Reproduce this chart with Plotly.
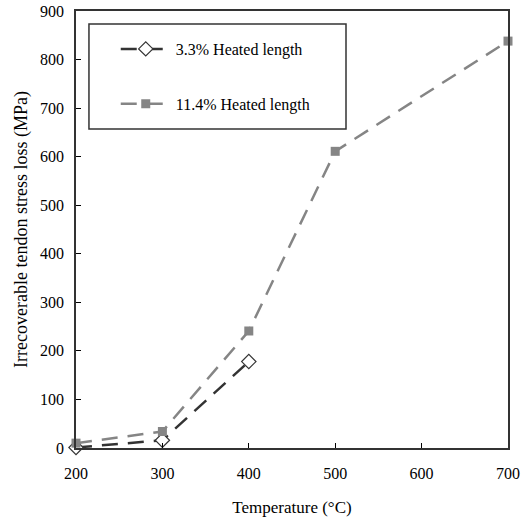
import plotly.graph_objects as go

temp_a = [200, 300, 400]
loss_a = [1, 16, 178]
temp_b = [200, 300, 400, 500, 700]
loss_b = [10, 34, 241, 611, 838]
name_a = "3.3% Heated length"
name_b = "11.4% Heated length"
x_ticks = [200, 300, 400, 500, 600, 700]
y_ticks = [0, 100, 200, 300, 400, 500, 600, 700, 800, 900]

FONT = "Liberation Serif"

fig = go.Figure()
fig.add_trace(go.Scatter(
    x=temp_a, y=loss_a, name=name_a, mode="lines+markers", legendgroup="a",
    line=dict(color="#333333", width=2.5, dash="16px,10px"),
    marker=dict(symbol="diamond", size=11, color="white",
                line=dict(color="#333333", width=1.2)),
    cliponaxis=False,
))
fig.add_trace(go.Scatter(
    x=temp_b, y=loss_b, name=name_b, mode="lines+markers", legendgroup="b",
    line=dict(color="#858585", width=2.5, dash="16px,10px"),
    marker=dict(symbol="square", size=9, color="#858585"),
    cliponaxis=False,
))

# legend frame (decoration)
fig.add_shape(type="rect", xref="paper", yref="paper",
              x0=0.030, x1=0.625, y0=0.730, y1=0.970,
              line=dict(color="#333333", width=1.5), fillcolor="white", layer="below")

fig.update_layout(
    width=528, height=519,
    margin=dict(l=76, r=20, t=11, b=71),
    paper_bgcolor="white", plot_bgcolor="white",
    font=dict(family=FONT, size=16, color="black"),
    showlegend=True,
    legend=dict(
        x=0.092, y=0.952, xanchor="left", yanchor="top",
        borderwidth=0, bgcolor="rgba(0,0,0,0)",
        font=dict(family=FONT, size=16),
        tracegroupgap=31,
        itemwidth=50,
        traceorder="grouped",
    ),
    xaxis=dict(
        range=[200, 700], tickvals=x_ticks, ticktext=[str(v) for v in x_ticks],
        ticks="inside", ticklen=5, tickcolor="black",
        showline=True, linecolor="#333333", linewidth=1.5, mirror=True,
        showgrid=False, zeroline=False, automargin=False,
        tickfont=dict(family=FONT, size=16),
        ticklabelstandoff=10,
        title=dict(text="Temperature (°C)", font=dict(family=FONT, size=17), standoff=20),
    ),
    yaxis=dict(
        range=[0, 900], tickvals=y_ticks, ticktext=[str(v) for v in y_ticks],
        ticks="inside", ticklen=5, tickcolor="black",
        showline=True, linecolor="#333333", linewidth=1.5, mirror=True,
        showgrid=False, zeroline=False, automargin=False,
        tickfont=dict(family=FONT, size=16),
        ticklabelstandoff=7,
        title=dict(text="Irrecoverable tendon stress loss (MPa)",
                   font=dict(family=FONT, size=18), standoff=8),
    ),
)

fig.write_html("out.html")
